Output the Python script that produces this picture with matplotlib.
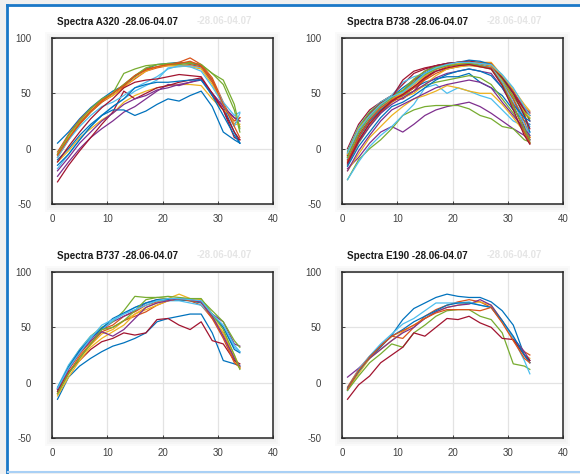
# Spectra per aircraft type, four panels (MATLAB-style look)

import numpy as np
import matplotlib.pyplot as plt
from matplotlib.patches import Rectangle

x = [1, 3, 5, 7, 9, 11, 13, 15, 17, 19, 21, 23, 25, 27, 29, 31, 33, 34]

a320 = [
    [5, 15, 27, 37, 45, 52, 57, 65, 72, 76, 77, 78, 77, 75, 62, 38, 15, 5],
    [-3, 13, 26, 36, 44, 50, 58, 66, 72, 74, 76, 78, 82, 76, 64, 42, 22, 28],
    [-12, -2, 10, 18, 26, 32, 42, 48, 52, 55, 57, 58, 58, 57, 45, 35, 28, 20],
    [-25, -12, 0, 10, 18, 25, 33, 38, 45, 52, 58, 57, 60, 63, 50, 38, 28, 25],
    [-5, 10, 22, 33, 42, 50, 68, 72, 75, 76, 77, 77, 78, 76, 68, 58, 35, 15],
    [-18, -5, 8, 20, 30, 38, 45, 52, 57, 62, 73, 74, 75, 73, 60, 42, 30, 33],
    [-30, -15, -2, 10, 22, 33, 52, 45, 50, 55, 57, 60, 62, 64, 48, 35, 10, 8],
    [-10, 0, 12, 22, 30, 35, 35, 30, 34, 40, 45, 43, 48, 52, 38, 15, 8, 5],
    [-8, 8, 22, 33, 42, 48, 56, 63, 70, 73, 75, 75, 76, 74, 60, 38, 25, 28],
    [-5, 10, 24, 34, 43, 48, 55, 64, 70, 74, 75, 75, 74, 72, 58, 40, 22, 22],
    [-20, -8, 5, 15, 25, 32, 40, 45, 48, 53, 55, 58, 60, 62, 50, 38, 28, 25],
    [-5, 12, 25, 36, 45, 50, 58, 66, 73, 76, 76, 76, 77, 76, 68, 62, 40, 18],
    [-8, 8, 20, 30, 38, 42, 48, 55, 60, 65, 72, 75, 74, 70, 56, 40, 20, 32],
    [-12, 2, 15, 27, 37, 45, 55, 60, 62, 63, 65, 67, 66, 65, 50, 35, 15, 8],
    [-15, -5, 8, 20, 30, 38, 45, 55, 58, 60, 60, 61, 62, 62, 48, 30, 12, 5],
    [-6, 9, 23, 34, 43, 50, 57, 66, 71, 74, 76, 77, 79, 75, 62, 40, 20, 10],
]

b738 = [
    [-8, 18, 30, 40, 47, 55, 62, 68, 72, 75, 77, 78, 77, 74, 62, 48, 35, 30],
    [-5, 20, 32, 42, 48, 52, 62, 70, 75, 77, 78, 79, 77, 75, 64, 50, 38, 32],
    [-12, 10, 25, 36, 44, 50, 58, 66, 72, 76, 78, 78, 78, 78, 66, 52, 35, 10],
    [-18, -8, 5, 15, 20, 15, 22, 30, 35, 38, 40, 42, 38, 32, 25, 18, 12, 8],
    [-28, -10, 0, 8, 18, 30, 35, 38, 39, 39, 39, 36, 30, 27, 20, 18, 8, 6],
    [-28, -12, 2, 12, 20, 30, 40, 55, 58, 50, 55, 52, 48, 45, 35, 25, 20, 15],
    [0, 22, 35, 42, 48, 58, 68, 72, 75, 76, 77, 77, 76, 73, 60, 45, 20, 5],
    [-10, 10, 25, 35, 43, 48, 55, 60, 63, 65, 65, 68, 60, 55, 48, 35, 25, 22],
    [-6, 15, 28, 38, 45, 48, 55, 65, 72, 76, 78, 79, 78, 77, 65, 52, 36, 30],
    [-20, -5, 10, 20, 30, 38, 45, 48, 52, 57, 55, 52, 50, 50, 40, 28, 15, 10],
    [-4, 18, 32, 40, 46, 50, 60, 70, 75, 77, 78, 79, 77, 76, 64, 50, 36, 33],
    [-15, 5, 20, 32, 42, 48, 52, 57, 60, 62, 64, 66, 64, 58, 45, 32, 15, 5],
    [-2, 20, 33, 42, 48, 60, 65, 68, 70, 72, 74, 75, 75, 73, 62, 45, 28, 20],
    [-10, 12, 27, 38, 45, 45, 52, 63, 72, 76, 77, 78, 76, 74, 63, 50, 35, 25],
    [-7, 16, 30, 40, 47, 52, 60, 68, 74, 77, 78, 80, 79, 76, 65, 50, 30, 15],
    [-12, 8, 22, 33, 42, 48, 55, 62, 68, 72, 74, 76, 74, 72, 60, 45, 25, 10],
    [-8, 15, 28, 38, 45, 46, 50, 58, 66, 72, 74, 75, 74, 73, 62, 48, 33, 28],
    [-14, 6, 20, 32, 40, 46, 52, 58, 64, 68, 70, 72, 70, 68, 55, 38, 18, 8],
    [-3, 19, 33, 41, 47, 53, 63, 70, 74, 76, 77, 78, 76, 75, 63, 47, 32, 27],
    [-9, 14, 28, 38, 46, 51, 58, 66, 72, 75, 77, 77, 76, 74, 60, 42, 22, 12],
    [-6, 17, 31, 41, 46, 62, 70, 73, 75, 77, 78, 79, 77, 75, 64, 50, 30, 18],
    [-16, 2, 15, 28, 38, 42, 48, 55, 62, 67, 70, 72, 70, 66, 55, 40, 28, 25],
    [-11, 11, 26, 37, 44, 49, 56, 63, 70, 74, 76, 77, 75, 73, 58, 40, 15, 5],
    [-5, 18, 30, 40, 46, 50, 58, 66, 72, 75, 77, 78, 77, 75, 66, 54, 40, 34],
    [-20, -2, 12, 25, 35, 40, 45, 50, 55, 58, 60, 62, 60, 55, 42, 30, 18, 12],
    [-8, 14, 29, 39, 46, 52, 60, 67, 72, 75, 76, 77, 75, 72, 58, 38, 18, 8],
    [-4, 17, 30, 40, 47, 51, 59, 68, 73, 76, 78, 78, 77, 76, 67, 55, 38, 30],
    [-13, 7, 23, 34, 43, 49, 56, 64, 70, 73, 75, 76, 74, 72, 57, 35, 12, 4],
]

b737 = [
    [-15, 5, 15, 22, 28, 33, 36, 40, 45, 55, 58, 60, 62, 62, 45, 20, 17, 15],
    [-5, 12, 26, 37, 48, 52, 60, 64, 70, 73, 75, 75, 74, 70, 58, 45, 22, 13],
    [-10, 8, 22, 34, 44, 48, 56, 62, 68, 72, 76, 80, 76, 74, 60, 42, 20, 13],
    [-6, 14, 28, 40, 48, 55, 60, 65, 72, 75, 76, 76, 75, 74, 62, 55, 35, 33],
    [-8, 15, 30, 42, 50, 55, 65, 78, 77, 77, 76, 75, 75, 75, 65, 55, 38, 32],
    [-4, 16, 30, 42, 48, 56, 62, 68, 72, 74, 74, 74, 72, 70, 60, 50, 32, 28],
    [-8, 10, 20, 30, 37, 40, 45, 43, 45, 57, 58, 52, 48, 55, 38, 35, 20, 17],
    [-5, 14, 29, 40, 49, 58, 63, 68, 72, 75, 75, 75, 74, 72, 62, 50, 30, 27],
    [-10, 9, 24, 35, 46, 50, 56, 60, 64, 70, 74, 76, 74, 73, 58, 40, 18, 14],
    [-12, 5, 20, 32, 40, 46, 52, 62, 66, 70, 74, 76, 75, 75, 60, 45, 25, 14],
    [-6, 12, 27, 38, 46, 42, 48, 58, 68, 72, 74, 76, 75, 73, 60, 42, 22, 15],
    [-10, 8, 22, 35, 48, 50, 56, 65, 75, 77, 78, 77, 76, 76, 62, 48, 25, 12],
    [-5, 13, 27, 40, 52, 57, 62, 66, 70, 74, 76, 76, 75, 74, 62, 52, 34, 28],
]

e190 = [
    [-7, 10, 22, 32, 43, 57, 67, 72, 77, 80, 78, 77, 77, 73, 65, 52, 25, 18],
    [-4, 12, 24, 34, 42, 40, 50, 60, 66, 70, 73, 75, 73, 68, 55, 40, 28, 25],
    [-6, 8, 22, 30, 38, 46, 52, 58, 64, 68, 70, 72, 73, 70, 56, 38, 25, 22],
    [5, 13, 22, 30, 38, 45, 50, 58, 64, 68, 70, 71, 75, 70, 56, 40, 28, 20],
    [-7, 6, 18, 26, 35, 32, 45, 52, 60, 65, 66, 66, 60, 57, 45, 17, 15, 12],
    [-6, 12, 24, 35, 44, 53, 58, 65, 72, 72, 72, 73, 70, 68, 55, 40, 20, 8],
    [-15, -2, 6, 18, 25, 32, 45, 42, 50, 58, 57, 60, 54, 50, 40, 39, 25, 20],
    [-5, 10, 23, 33, 42, 48, 55, 60, 65, 70, 72, 72, 70, 68, 56, 42, 25, 18],
    [-6, 11, 23, 33, 42, 47, 52, 58, 63, 66, 66, 66, 65, 68, 54, 38, 22, 18],
]

titles = ['Spectra A320 -28.06-04.07', 'Spectra B738 -28.06-04.07',
          'Spectra B737 -28.06-04.07', 'Spectra E190 -28.06-04.07']
panels = [a320, b738, b737, e190]

colors = ['#0072BD', '#D95319', '#EDB120', '#7E2F8E', '#77AC30', '#4DBEEE', '#A2142F']
plt.rcParams['font.family'] = ['Liberation Sans', 'DejaVu Sans']
plt.rcParams['axes.unicode_minus'] = False

W, H = 580, 474
fig = plt.figure(figsize=(W / 100, H / 100), dpi=100)
fig.patch.set_facecolor('#f0f0f0')

# white panel with blue frame
fig.add_artist(Rectangle((8 / W, 2 / H), 1, (H - 7 - 2) / H, transform=fig.transFigure,
                         facecolor='white', edgecolor='none', zorder=0))
fig.add_artist(plt.Line2D([7 / W, 7 / W], [0, 1 - 5 / H], transform=fig.transFigure,
                          color='#1a78c8', lw=2))
fig.add_artist(plt.Line2D([7 / W, 1], [1 - 5 / H, 1 - 5 / H], transform=fig.transFigure,
                          color='#1a78c8', lw=2))
fig.add_artist(plt.Line2D([8 / W, 1], [2 / H, 2 / H], transform=fig.transFigure,
                          color='#a9d0f5', lw=1.5))

boxes = [(52, 38), (342, 38), (52, 272), (342, 272)]
aw, ah = 221, 166

for (left, top), data, title in zip(boxes, panels, titles):
    # soft drop shadow behind the axes
    for i in range(4):
        d = 1 + i * 2
        fig.add_artist(Rectangle(((left - d) / W, (H - top - ah - d - 1) / H),
                                 (aw + 2 * d) / W, (ah + 2 * d) / H,
                                 transform=fig.transFigure, facecolor='#808080',
                                 edgecolor='none', alpha=0.04, zorder=1))
    ax = fig.add_axes([left / W, (H - top - ah) / H, aw / W, ah / H], zorder=2)
    ax.set_prop_cycle(color=colors)
    for y in data:
        ax.plot(x, y, lw=0.9)
    ax.set_xlim(0, 40)
    ax.set_ylim(-50, 100)
    ax.set_xticks([0, 10, 20, 30, 40])
    ax.set_yticks([-50, 0, 50, 100])
    ax.grid(True, color='#e3e3e3', lw=0.9)
    ax.set_axisbelow(True)
    ax.tick_params(direction='in', length=2, width=0.6, colors='#262626',
                   labelcolor='#404040', labelsize=7)
    ax.tick_params(axis='y', pad=15)
    ax.tick_params(axis='x', pad=7)
    for s in ax.spines.values():
        s.set_color('#262626')
        s.set_linewidth(1.1)
    fig.text((left + 5) / W, 1 - (top - 16) / H, title, fontsize=7.1, fontweight='bold',
             va='center', ha='left', color='#1a1a1a')
    fig.text((left + 145) / W, 1 - (top - 17) / H, '-28.06-04.07', fontsize=7,
             fontweight='bold', va='center', ha='left', color='#d0d0d0', alpha=0.55)

plt.savefig('out.png', dpi=100, facecolor=fig.get_facecolor())
